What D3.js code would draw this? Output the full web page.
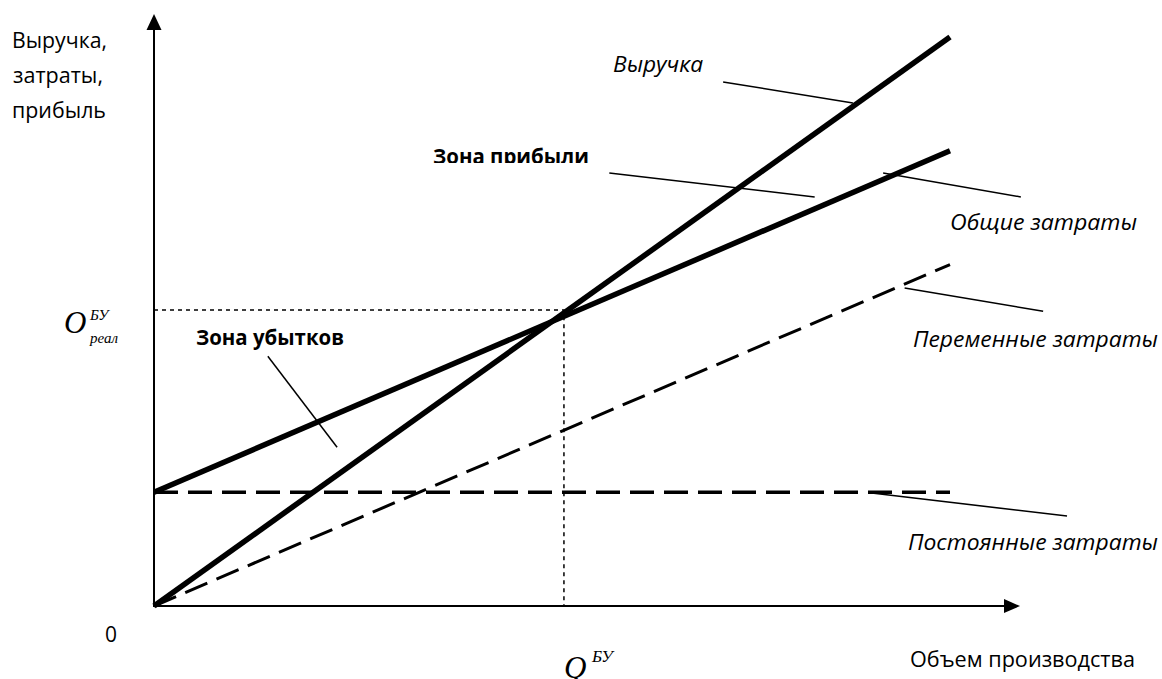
<!DOCTYPE html>
<html>
<head>
<meta charset="utf-8">
<script src="https://cdn.jsdelivr.net/npm/d3@7"></script>
<style>
  body { margin: 0; background: #fff; }
  svg { display: block; }
  .lbl { font-family: "Open Sans", sans-serif; font-size: 21px; fill: #000; }
  .it { font-style: italic; }
  .bd { font-weight: bold; }
  .serif { font-family: "Liberation Serif", "Times New Roman", serif; font-style: italic; fill: #000; }
</style>
</head>
<body>
<div id="chart"></div>
<script>
// break-even chart values (volume 0..100, money 0..100)
var volume = [0, 100];
var revenue = [0, 100];
var totalCosts = [20, 80];
var variableCosts = [0, 60];
var fixedCosts = [20, 20];
var breakEvenQ = 51.5;
var breakEvenValue = 52;

var yAxisLabel = ["Выручка,", "затраты,", "прибыль"];
var xAxisLabel = "Объем производства";
var seriesLabels = ["Выручка", "Общие затраты", "Переменные затраты", "Постоянные затраты"];
var zoneLabels = ["Зона прибыли", "Зона убытков"];

var W = 1162, H = 679;

var svg = d3.select("#chart")
  .append("svg")
  .attr("width", W)
  .attr("height", H);

var x = d3.scaleLinear().domain([0, 100]).range([154, 950]);
var y = d3.scaleLinear().domain([0, 100]).range([606, 37]);

var line = d3.line()
  .x(d => x(d[0]))
  .y(d => y(d[1]));

function pts(vals) {
  return volume.map((q, i) => [q, vals[i]]);
}

// dotted guides to the break-even point
svg.append("path")
  .attr("d", line([[0, breakEvenValue], [breakEvenQ, breakEvenValue], [breakEvenQ, 0]]))
  .attr("fill", "none")
  .attr("stroke", "#000")
  .attr("stroke-width", 1.5)
  .attr("stroke-dasharray", "4,4");

// dashed cost lines
svg.append("path")
  .attr("d", line(pts(fixedCosts)))
  .attr("fill", "none")
  .attr("stroke", "#000")
  .attr("stroke-width", 3.4)
  .attr("stroke-dasharray", "24,10");

svg.append("path")
  .attr("d", line(pts(variableCosts)))
  .attr("fill", "none")
  .attr("stroke", "#000")
  .attr("stroke-width", 3)
  .attr("stroke-dasharray", "24,10");

// revenue and total costs
svg.selectAll(".main")
  .data([revenue, totalCosts])
  .join("path")
    .attr("class", "main")
    .attr("d", d => line(pts(d)))
    .attr("fill", "none")
    .attr("stroke", "#000")
    .attr("stroke-width", 5.5);

// leader lines, in chart units
var leaders = [
  [[71.5, 92.1], [87.8, 88.4]],
  [[57.2, 76.1], [83.0, 71.9]],
  [[91.6, 76.1], [108.9, 71.9]],
  [[94.3, 55.9], [111.7, 51.8]],
  [[89.9, 19.9], [114.7, 15.8]],
  [[14.3, 43.9], [23.0, 27.9]]
];

svg.selectAll(".leader")
  .data(leaders)
  .join("path")
    .attr("class", "leader")
    .attr("d", d => line(d))
    .attr("stroke", "#000")
    .attr("stroke-width", 1.5);

// axes with arrows
var xTip = 1020, yTip = 14;
svg.append("line")
  .attr("x1", x(0)).attr("y1", y(0))
  .attr("x2", xTip - 10).attr("y2", y(0))
  .attr("stroke", "#000").attr("stroke-width", 2);
svg.append("line")
  .attr("x1", x(0)).attr("y1", y(0) + 1)
  .attr("x2", x(0)).attr("y2", yTip + 10)
  .attr("stroke", "#000").attr("stroke-width", 2);
svg.append("path")
  .attr("d", "M" + xTip + "," + y(0) + "L" + (xTip - 16) + "," + (y(0) - 7) + "L" + (xTip - 16) + "," + (y(0) + 7) + "Z")
  .attr("fill", "#000");
svg.append("path")
  .attr("d", "M" + x(0) + "," + yTip + "L" + (x(0) - 7.5) + "," + (yTip + 16) + "L" + (x(0) + 7.5) + "," + (yTip + 16) + "Z")
  .attr("fill", "#000");

// texts
function label(txt, px, py, len, cls) {
  return svg.append("text")
    .attr("class", "lbl " + (cls || ""))
    .attr("x", px)
    .attr("y", py)
    .attr("textLength", len)
    .attr("lengthAdjust", "spacingAndGlyphs")
    .text(txt);
}

var yLabelPos = [[12, 48, 95], [13, 83, 90], [12, 118, 94]];
yAxisLabel.forEach((t, i) => label(t, yLabelPos[i][0], yLabelPos[i][1], yLabelPos[i][2]));

label("0", 105, 642, 12);
label(xAxisLabel, 910, 667, 225);

label(seriesLabels[0], 613, 72, 90, "it");
label(seriesLabels[1], 950, 230, 187, "it");
label(seriesLabels[2], 913, 347, 245, "it");
label(seriesLabels[3], 908, 550, 250, "it");

svg.append("clipPath")
  .attr("id", "cut")
  .append("rect")
  .attr("x", 400).attr("y", 120).attr("width", 250).attr("height", 43);
label(zoneLabels[0], 433, 164, 156, "bd").attr("clip-path", "url(#cut)");
label(zoneLabels[1], 196, 345, 148, "bd");

// O^БУ_реал on the value axis
var oy = svg.append("g");
oy.append("text").attr("class", "serif").attr("x", 64).attr("y", 333).attr("font-size", 31).text("O");
oy.append("text").attr("class", "serif").attr("x", 90).attr("y", 320).attr("font-size", 15).text("БУ");
oy.append("text").attr("class", "serif").attr("x", 90).attr("y", 343).attr("font-size", 15).text("реал");

// Q^БУ on the volume axis
var oq = svg.append("g");
oq.append("text").attr("class", "serif").attr("x", 564).attr("y", 678).attr("font-size", 31).text("Q");
oq.append("text").attr("class", "serif").attr("x", 592).attr("y", 662).attr("font-size", 17).text("БУ");
</script>
</body>
</html>
